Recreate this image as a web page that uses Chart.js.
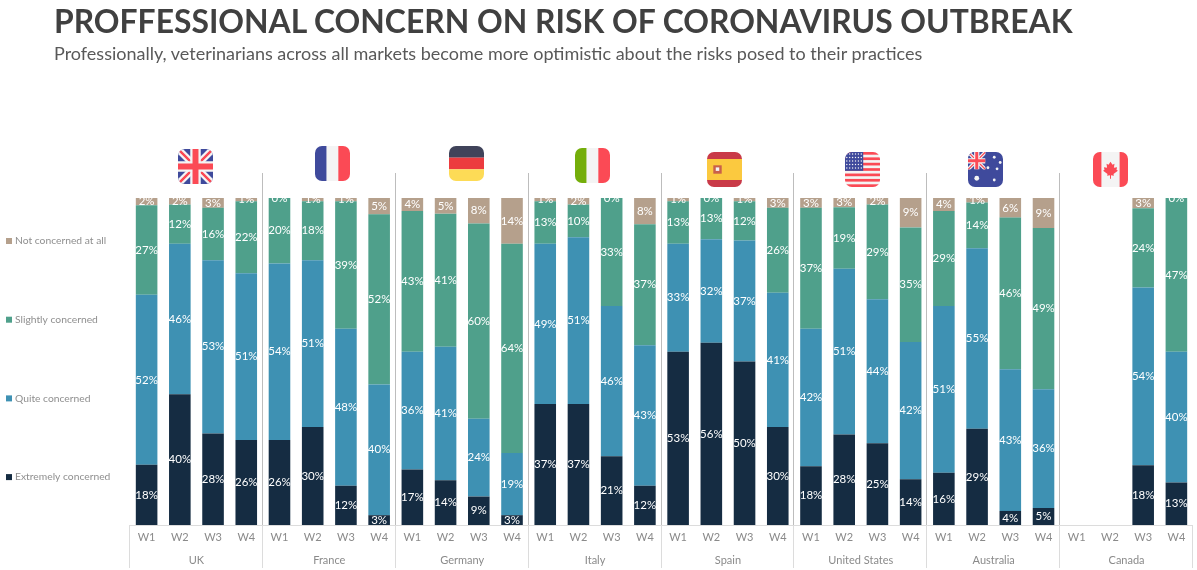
<!DOCTYPE html>
<html>
<head>
<meta charset="utf-8">
<title>Professional concern</title>
<script src="https://cdn.jsdelivr.net/npm/chart.js@4"></script>
<style>
  html,body{margin:0;padding:0;background:#fff;overflow:hidden}
  #wrap{position:relative;width:1197px;height:570px;font-family:Lato,sans-serif}
  #title{position:absolute;left:54px;top:0;font-size:31.85px;font-weight:700;color:#404040;white-space:nowrap;line-height:42px}
  #sub{position:absolute;left:54px;top:41px;font-size:18px;color:#595959;white-space:nowrap;line-height:24px}
  canvas{position:absolute;left:0;top:0}
</style>
</head>
<body>
<div id="wrap">
  <canvas id="chart" width="1197" height="570"></canvas>
  <div id="title">PROFFESSIONAL CONCERN ON RISK OF CORONAVIRUS OUTBREAK</div>
  <div id="sub">Professionally, veterinarians across all markets become more optimistic about the risks posed to their practices</div>
</div>
<script>
// =================== Data ===================
const countries = ['UK','France','Germany','Italy','Spain','United States','Australia','Canada'];
const weeks = ['W1','W2','W3','W4'];
// percents, with a decimal where the printed labels don't add up to 100
const extremely = [18.4,40,28,26, 26,30,12,3, 17,13.7,8.7,3, 37,37,21,12, 53,55.7,50,30, 18,27.7,25,14, 16,29.4,4.3,5.2, null,null,18.3,13];
const quite     = [52,46,53,51, 54,51,48,40, 36,40.8,23.8,19, 49,51,46,43, 33,31.7,37,41, 42,50.7,44,42, 51,55.2,43.3,36.3, null,null,54.3,40];
const slightly  = [27.4,12,16,22, 20,18,39,52, 43,40.7,59.7,64, 13,10,33,37, 13,12.6,12,26, 37,18.8,29,35, 29,14,46.4,49.3, null,null,24.3,47];
const notAtAll  = [2.2,2,3,1, 0,1,1,5, 4,4.8,7.8,14, 1,2,0,8, 1,0,1,3, 3,2.8,2,9, 4,1.4,6,9.2, null,null,3.1,0];

const seriesNames = ['Extremely concerned','Quite concerned','Slightly concerned','Not concerned at all'];
const seriesColors = ['#152c42','#3e91b3','#4fa08b','#b5a08c'];
const seriesValues = [extremely,quite,slightly,notAtAll];

const FONT = 'Lato, sans-serif';
const labels = countries.flatMap(()=>weeks);

// =================== Flags ===================
function band(c,x,y,w,h,col){ c.fillStyle=col; c.fillRect(x,y,w,h); }

function unionJack(c,x,y,w,h){
  band(c,x,y,w,h,'#3f4a9c');
  c.save();
  c.beginPath(); c.rect(x,y,w,h); c.clip();
  c.strokeStyle='#f4f4f4'; c.lineWidth=w*0.2;
  c.beginPath(); c.moveTo(x,y); c.lineTo(x+w,y+h); c.moveTo(x+w,y); c.lineTo(x,y+h); c.stroke();
  c.strokeStyle='#fb4a55'; c.lineWidth=w*0.07;
  c.beginPath(); c.moveTo(x,y); c.lineTo(x+w,y+h); c.moveTo(x+w,y); c.lineTo(x,y+h); c.stroke();
  c.strokeStyle='#f4f4f4'; c.lineWidth=w*0.3;
  c.beginPath(); c.moveTo(x+w/2,y); c.lineTo(x+w/2,y+h); c.moveTo(x,y+h/2); c.lineTo(x+w,y+h/2); c.stroke();
  c.strokeStyle='#fb4a55'; c.lineWidth=w*0.17;
  c.beginPath(); c.moveTo(x+w/2,y); c.lineTo(x+w/2,y+h); c.moveTo(x,y+h/2); c.lineTo(x+w,y+h/2); c.stroke();
  c.restore();
}

function dot(c,x,y,r,col){ c.fillStyle=col; c.beginPath(); c.arc(x,y,r,0,Math.PI*2); c.fill(); }

const flags = {
  UK:{x:178,y:149,draw:(c,x,y,w,h)=>unionJack(c,x,y,w,h)},
  France:{x:315,y:146,draw:(c,x,y,w,h)=>{
    band(c,x,y,w/3,h,'#3f4a9c'); band(c,x+w/3,y,w/3,h,'#f4f4f4'); band(c,x+2*w/3,y,w/3,h,'#fb4a55');
  }},
  Germany:{x:449,y:146,draw:(c,x,y,w,h)=>{
    band(c,x,y,w,h/3,'#40435a'); band(c,x,y+h/3,w,h/3,'#ec3b3f'); band(c,x,y+2*h/3,w,h/3,'#fddb56');
  }},
  Italy:{x:575,y:148,draw:(c,x,y,w,h)=>{
    band(c,x,y,w/3,h,'#74ae0a'); band(c,x+w/3,y,w/3,h,'#f4f4f4'); band(c,x+2*w/3,y,w/3,h,'#fb4a55');
  }},
  Spain:{x:707,y:152,draw:(c,x,y,w,h)=>{
    band(c,x,y,w,h,'#c93a48'); band(c,x,y+h*0.2,w,h*0.6,'#fbc93f');
    band(c,x+w*0.18,y+h*0.38,w*0.24,h*0.24,'#c9604a');
    band(c,x+w*0.25,y+h*0.44,w*0.1,h*0.1,'#f4f4f4');
  }},
  'United States':{x:845,y:152,draw:(c,x,y,w,h)=>{
    band(c,x,y,w,h,'#f4f4f4');
    for(let i=0;i<7;i++) band(c,x,y+i*2*h/13,w,h/13,'#fb4a55');
    band(c,x,y,w*0.52,h*7/13,'#3f4a9c');
    for(let r=0;r<5;r++) for(let k=0;k<6;k++) dot(c,x+1.8+k*2.9,y+2+r*3.5,0.7,'#f4f4f4');
  }},
  Australia:{x:968,y:152,draw:(c,x,y,w,h)=>{
    band(c,x,y,w,h,'#3f4a9c');
    unionJack(c,x,y,w/2,h/2);
    dot(c,x+w*0.25,y+h*0.75,2.4,'#f4f4f4');
    [[0.75,0.15],[0.57,0.45],[0.83,0.48],[0.75,0.8],[0.92,0.3]].forEach(p=>dot(c,x+w*p[0],y+h*p[1],1.4,'#f4f4f4'));
  }},
  Canada:{x:1093,y:152,draw:(c,x,y,w,h)=>{
    band(c,x,y,w,h,'#f4f4f4'); band(c,x,y,w*0.24,h,'#fb4a55'); band(c,x+w*0.76,y,w*0.24,h,'#fb4a55');
    // maple leaf
    let cx=x+w/2, t=y+h*0.28, s=w/35;
    const leaf=[[0,0],[2,3],[4,2],[3.4,6],[6.6,5.4],[6,8],[7.4,9],[3,12.2],[3.4,14],[0.5,13.4],[0.5,17],[-0.5,17],[-0.5,13.4],[-3.4,14],[-3,12.2],[-7.4,9],[-6,8],[-6.6,5.4],[-3.4,6],[-4,2],[-2,3]];
    c.fillStyle='#fb4a55'; c.beginPath();
    leaf.forEach((p,i)=>{ i?c.lineTo(cx+p[0]*s,t+p[1]*s):c.moveTo(cx+p[0]*s,t+p[1]*s); });
    c.closePath(); c.fill();
  }}
};

// =================== Plugins ===================
const decorPlugin = {
  id:'decor',
  afterDraw(chart){
    const c=chart.ctx, a=chart.chartArea, xs=chart.scales.x;
    const groupW=a.width/countries.length;
    c.save();

    // group separators and axis frame
    for(let i=0;i<=countries.length;i++){
      let sx=Math.round(a.left+i*groupW)-0.5;
      if(i>0 && i<countries.length){
        c.strokeStyle='#bdbdbd'; c.lineWidth=1;
        c.beginPath(); c.moveTo(sx,173); c.lineTo(sx,a.bottom); c.stroke();
      }
      c.strokeStyle='#dcdcdc'; c.lineWidth=1;
      c.beginPath(); c.moveTo(sx,a.bottom); c.lineTo(sx,568); c.stroke();
    }
    c.strokeStyle='#dcdcdc';
    c.beginPath(); c.moveTo(a.left,a.bottom+0.5); c.lineTo(a.right,a.bottom+0.5); c.stroke();

    // value labels, clipped to the plot so 0% is cut like the original
    c.save();
    c.beginPath(); c.rect(a.left,a.top,a.width,a.height); c.clip();
    c.font='11.5px '+FONT; c.fillStyle='#fff'; c.textAlign='center'; c.textBaseline='middle';
    chart.data.datasets.forEach((ds,d)=>{
      chart.getDatasetMeta(d).data.forEach((bar,i)=>{
        let v=seriesValues[d][i];
        if(v===null) return;
        let mid=(bar.y+bar.base)/2;
        c.fillText(Math.round(v)+'%',xs.getPixelForValue(i),mid);
      });
    });
    c.restore();

    // legend, top series first
    c.textAlign='left'; c.textBaseline='middle'; c.font='10.3px '+FONT;
    seriesNames.slice().reverse().forEach((name,i)=>{
      let ly=241+i*78.7;
      c.fillStyle=seriesColors[3-i];
      c.fillRect(6,ly-3,6,6);
      c.fillStyle='#8f8f8f';
      c.fillText(name,15,ly);
    });

    // flags
    countries.forEach(n=>{
      let f=flags[n], s=35;
      c.save();
      c.beginPath(); c.roundRect(f.x,f.y,s,s,7); c.clip();
      f.draw(c,f.x,f.y,s,s);
      c.restore();
    });
    c.restore();
  }
};

// =================== Chart ===================
new Chart(document.getElementById('chart').getContext('2d'),{
  type:'bar',
  data:{
    labels,
    datasets:seriesNames.map((name,d)=>({
      label:name,
      data:seriesValues[d],
      backgroundColor:seriesColors[d],
      borderWidth:0,
      categoryPercentage:1,
      barPercentage:0.65
    }))
  },
  plugins:[decorPlugin],
  options:{
    responsive:false,
    animation:false,
    layout:{padding:{left:130,right:4,top:198,bottom:0}},
    plugins:{legend:{display:false},tooltip:{enabled:false}},
    scales:{
      x:{
        stacked:true,
        grid:{display:false,drawTicks:false},
        border:{display:false},
        ticks:{color:'#8a8a8a',font:{family:FONT,size:11},maxRotation:0,autoSkip:false,padding:6},
        afterFit(s){ s.height=27; }
      },
      groups:{
        type:'category',
        position:'bottom',
        labels:countries,
        offset:true,
        grid:{display:false,drawTicks:false},
        border:{display:false},
        ticks:{color:'#8a8a8a',font:{family:FONT,size:11},maxRotation:0,autoSkip:false,padding:2},
        afterFit(s){ s.height=18; }
      },
      y:{stacked:true,display:false,min:0,max:100}
    }
  }
});
</script>
</body>
</html>
